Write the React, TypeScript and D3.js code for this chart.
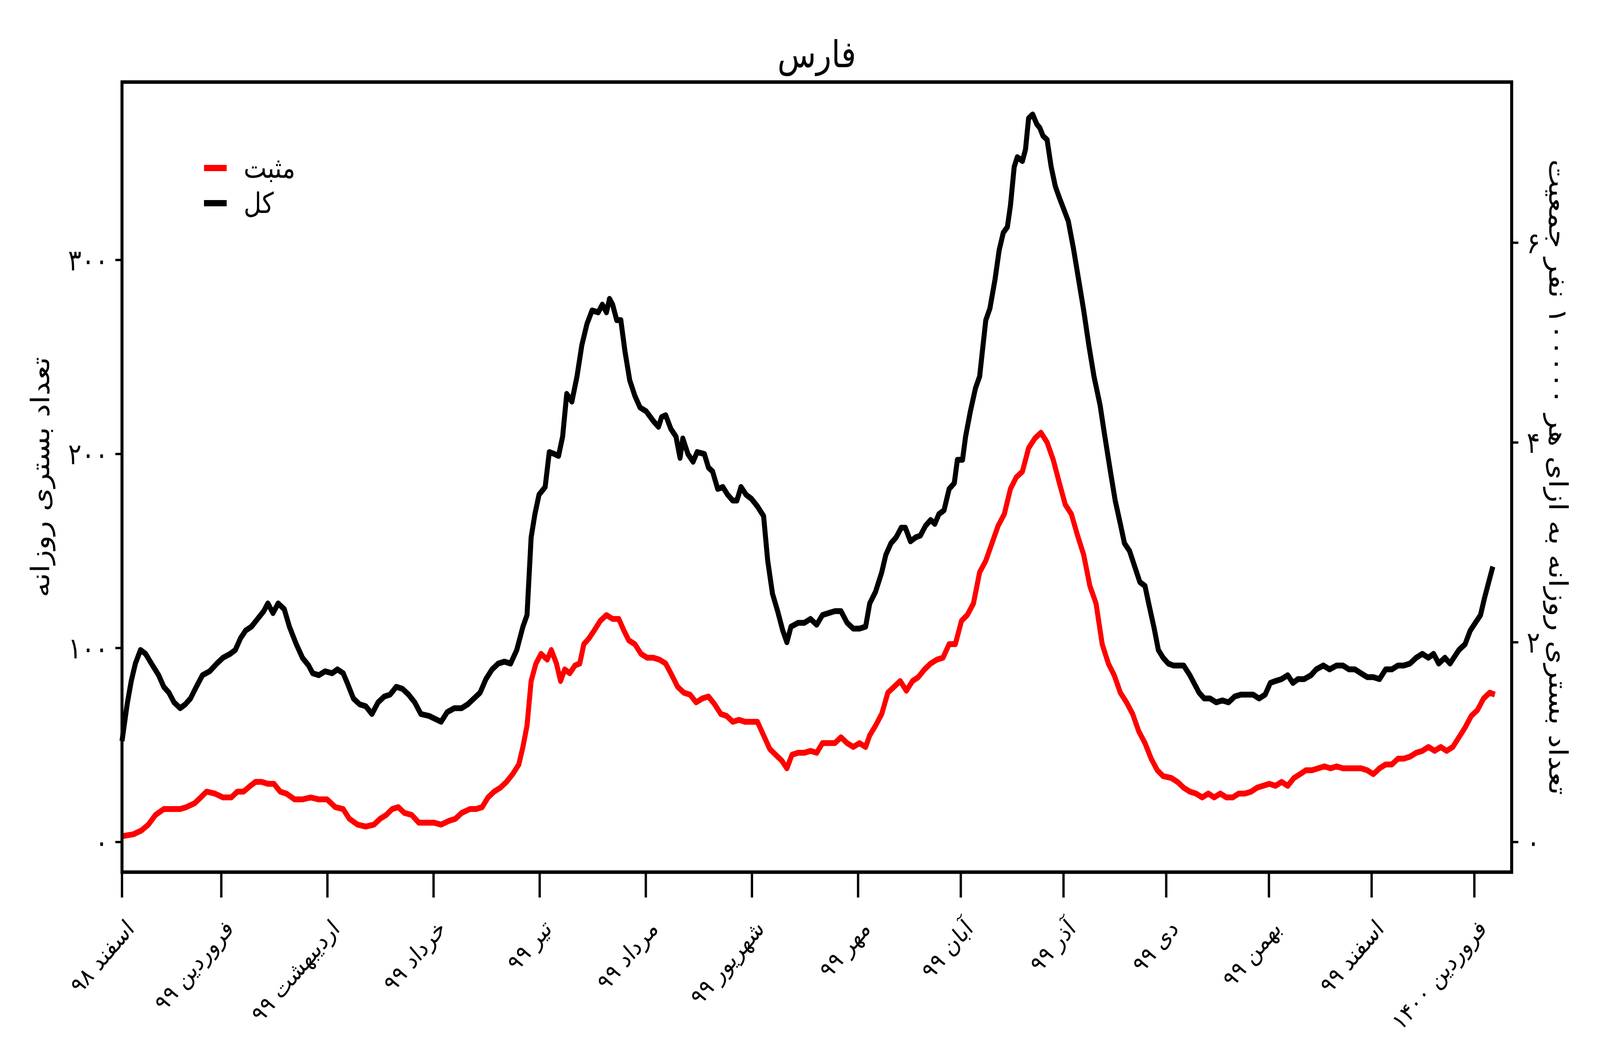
import React, { useEffect, useRef } from 'react';
import * as d3 from 'd3';

// days since 1 Esfand 1398
const totalDays = [
  0, 1.5, 2.7, 3.9, 5.4, 6.9, 8.6, 10.7, 12.2, 13.7,
  15.2, 17.0, 18.5, 20.0, 21.7, 23.5, 25.6, 27.7, 29.5, 31.6,
  33.1, 34.6, 36.1, 37.8, 39.6, 41.4, 42.6, 44.1, 45.6, 47.4,
  48.9, 50.9, 52.7, 54.5, 55.7, 57.5, 59.3, 61.4, 62.9, 64.6,
  65.8, 67.6, 69.4, 71.2, 73.0, 74.8, 76.6, 78.3, 80.1, 81.9,
  83.7, 85.5, 87.3, 89.7, 92.0, 93.2, 95.0, 97.1, 99.2, 101.0,
  102.8, 104.6, 106.3, 108.1, 109.9, 111.7, 113.5, 115.3, 117.1, 118.3,
  119.5, 120.6, 121.8, 123.6, 124.8, 126.3, 127.5, 128.7, 129.9, 131.4,
  132.9, 134.3, 135.8, 137.3, 139.1, 140.3, 141.5, 142.4, 143.3, 144.5,
  145.7, 146.9, 148.3, 149.8, 151.3, 153.1, 155.2, 156.7, 157.6, 158.8,
  160.3, 161.8, 163.0, 163.8, 165.3, 166.8, 168.0, 170.1, 171.3, 172.5,
  174.0, 175.5, 176.9, 178.4, 179.6, 180.8, 182.3, 183.8, 185.6, 187.4,
  188.6, 190.0, 191.5, 193.0, 194.2, 195.4, 197.5, 199.3, 201.1, 202.9,
  204.6, 206.4, 208.2, 210.0, 211.8, 213.6, 215.4, 217.2, 218.4, 220.1,
  221.9, 223.1, 224.6, 226.1, 227.6, 228.8, 230.3, 231.8, 233.2, 234.7,
  236.2, 237.4, 238.6, 240.1, 241.6, 243.1, 244.0, 245.5, 246.4, 247.8,
  249.3, 250.5, 252.3, 253.5, 255.0, 256.2, 257.4, 258.6, 259.5, 260.6,
  261.5, 263.0, 263.9, 264.8, 266.0, 267.2, 268.1, 269.0, 270.2, 271.4,
  272.6, 273.8, 274.9, 276.4, 277.9, 279.4, 280.9, 282.4, 283.9, 285.7,
  286.9, 288.7, 290.1, 291.6, 292.8, 294.3, 295.8, 297.3, 298.8, 300.0,
  301.5, 302.7, 304.1, 305.6, 307.1, 308.6, 310.1, 311.9, 313.1, 314.6,
  316.1, 317.8, 319.6, 321.4, 323.2, 325.0, 326.8, 328.6, 330.4, 332.1,
  333.9, 335.4, 336.9, 338.7, 340.5, 342.0, 343.5, 345.3, 347.3, 348.8,
  350.9, 352.7, 354.8, 356.6, 358.4, 360.1, 361.9, 363.7, 365.5, 367.3,
  369.1, 370.9, 372.7, 374.4, 376.2, 378.0, 379.8, 381.6, 383.1, 384.6,
  386.4, 387.9, 389.0, 390.5, 392.3, 393.8, 395.3, 396.8, 398.0, 399.2,
  400.4,
];

// کل: all daily hospitalisations
const totalValues = [
  52, 71, 83, 92, 99, 97, 92, 86, 80, 77,
  72, 69, 71, 74, 80, 86, 88, 92, 95, 97,
  99, 105, 109, 111, 115, 119, 123, 118, 123, 120,
  111, 102, 95, 91, 87, 86, 88, 87, 89, 87,
  82, 74, 71, 70, 66, 72, 75, 76, 80, 79,
  76, 72, 66, 65, 63, 62, 67, 69, 69, 71,
  74, 77, 84, 89, 92, 93, 92, 99, 111, 117,
  157, 169, 179, 183, 201, 200, 199, 209, 231, 227,
  240, 256, 267, 274, 273, 277, 273, 280, 277, 269,
  269, 253, 238, 230, 224, 222, 217, 214, 219, 220,
  213, 209, 198, 208, 200, 196, 201, 200, 193, 191,
  182, 183, 179, 176, 176, 183, 179, 177, 173, 168,
  145, 128, 119, 109, 103, 111, 113, 113, 115, 112,
  117, 118, 119, 119, 113, 110, 110, 111, 123, 129,
  139, 148, 154, 157, 162, 162, 155, 157, 158, 163,
  166, 164, 169, 171, 182, 185, 197, 197, 209, 222,
  234, 240, 269, 275, 290, 305, 314, 317, 328, 348,
  353, 351, 357, 373, 375, 370, 368, 364, 362, 348,
  338, 332, 327, 320, 306, 290, 274, 256, 240, 225,
  211, 191, 176, 164, 154, 150, 142, 134, 132, 122,
  110, 99, 95, 92, 91, 91, 91, 86, 82, 77,
  74, 74, 72, 73, 72, 75, 76, 76, 76, 74,
  76, 82, 83, 84, 86, 82, 84, 84, 86, 89,
  91, 89, 91, 91, 89, 89, 87, 85, 85, 84,
  89, 89, 91, 91, 92, 95, 97, 95, 97, 92,
  95, 92, 95, 99, 102, 109, 113, 117, 126, 134,
  142,
];

const positiveDays = [
  0, 3.3, 5.7, 7.7, 9.8, 12.2, 14.6, 17.0, 18.8, 21.2,
  23.0, 24.7, 27.1, 29.5, 31.9, 33.7, 35.5, 37.5, 39.0, 40.8,
  42.6, 44.4, 46.2, 48.0, 50.4, 52.7, 55.1, 57.5, 59.9, 62.3,
  64.6, 66.4, 68.8, 71.2, 73.6, 75.4, 77.2, 78.9, 80.7, 82.5,
  84.6, 86.7, 89.1, 91.1, 93.2, 95.6, 97.4, 99.2, 101.6, 103.4,
  105.2, 106.9, 108.7, 110.5, 112.3, 114.1, 115.9, 117.1, 118.3, 119.5,
  120.9, 122.4, 124.2, 125.4, 126.9, 128.1, 129.3, 130.8, 132.3, 133.7,
  134.9, 136.4, 137.9, 139.7, 141.5, 143.3, 145.1, 146.6, 148.0, 149.8,
  151.6, 153.4, 155.2, 157.0, 158.8, 160.6, 162.3, 164.1, 165.9, 167.7,
  169.5, 171.3, 173.1, 174.9, 176.6, 178.4, 180.2, 182.0, 183.8, 185.6,
  187.4, 189.2, 190.9, 192.7, 194.2, 195.7, 197.5, 199.3, 201.1, 202.9,
  204.6, 206.4, 208.2, 210.0, 211.8, 213.6, 215.4, 217.2, 218.4, 220.1,
  221.9, 223.7, 225.5, 227.3, 229.1, 230.9, 232.6, 234.4, 236.2, 238.0,
  239.8, 241.6, 243.4, 245.2, 246.9, 248.7, 250.5, 252.3, 254.1, 255.9,
  257.7, 259.5, 261.2, 263.0, 264.8, 266.6, 268.4, 270.2, 272.0, 273.8,
  275.5, 277.3, 279.1, 280.9, 282.7, 284.5, 286.3, 288.1, 289.8, 291.6,
  293.4, 295.2, 297.0, 298.8, 300.6, 302.4, 304.1, 306.5, 308.3, 310.1,
  311.9, 313.7, 315.5, 317.3, 319.0, 320.8, 322.6, 324.4, 326.2, 328.0,
  329.8, 331.5, 333.3, 335.1, 336.9, 338.7, 340.5, 342.3, 344.1, 345.8,
  347.6, 349.4, 351.2, 353.0, 354.8, 356.6, 358.4, 360.1, 361.9, 363.7,
  365.5, 367.3, 369.1, 370.9, 372.7, 374.4, 376.2, 378.0, 379.8, 381.6,
  383.4, 385.2, 386.9, 388.7, 390.5, 392.3, 394.1, 395.9, 397.7, 399.5,
  401.0,
];

// مثبت: positive-test hospitalisations
const positiveValues = [
  3, 4, 6, 9, 14, 17, 17, 17, 18, 20,
  23, 26, 25, 23, 23, 26, 26, 29, 31, 31,
  30, 30, 26, 25, 22, 22, 23, 22, 22, 18,
  17, 12, 9, 8, 9, 12, 14, 17, 18, 15,
  14, 10, 10, 10, 9, 11, 12, 15, 17, 17,
  18, 23, 26, 28, 31, 35, 40, 49, 60, 83,
  92, 97, 94, 99, 92, 83, 89, 87, 91, 92,
  102, 105, 109, 114, 117, 115, 115, 109, 104, 102,
  97, 95, 95, 94, 92, 86, 80, 77, 76, 72,
  74, 75, 71, 66, 65, 62, 63, 62, 62, 62,
  55, 48, 45, 42, 38, 45, 46, 46, 47, 46,
  51, 51, 51, 54, 51, 49, 51, 49, 55, 60,
  66, 77, 80, 83, 78, 83, 85, 89, 92, 94,
  95, 102, 102, 114, 117, 123, 139, 145, 154, 163,
  169, 182, 188, 191, 203, 208, 211, 206, 197, 185,
  174, 169, 158, 148, 132, 123, 102, 92, 86, 77,
  72, 66, 57, 51, 43, 37, 34, 33, 31, 28,
  26, 25, 23, 25, 23, 25, 23, 23, 25, 25,
  26, 28, 29, 30, 29, 31, 29, 33, 35, 37,
  37, 38, 39, 38, 39, 38, 38, 38, 38, 37,
  35, 38, 40, 40, 43, 43, 44, 46, 47, 49,
  47, 49, 47, 49, 54, 59, 65, 68, 74, 77,
  76,
];

// first day of each month, counted from 1 Esfand 1398
const monthStarts = [0, 29, 60, 91, 122, 153, 184, 215, 245, 275, 305, 335, 365, 395];
const monthLabels = [
  'اسفند ۹۸', 'فروردین ۹۹', 'اردیبهشت ۹۹', 'خرداد ۹۹', 'تیر ۹۹', 'مرداد ۹۹', 'شهریور ۹۹',
  'مهر ۹۹', 'آبان ۹۹', 'آذر ۹۹', 'دی ۹۹', 'بهمن ۹۹', 'اسفند ۹۹', 'فروردین ۱۴۰۰',
];
const leftTicks = [0, 100, 200, 300];
const rightTicks = [0, 2, 4, 6];
const per100k = 51.48; // hospitalisations per 1 unit of the right axis

const seriesNames = ['مثبت', 'کل'];
const seriesColors = ['#ff0000', '#000000'];

const titleText = 'فارس';
const leftLabel = 'تعداد بستری روزانه';
const rightLabel = 'تعداد بستری روزانه به ازای هر ۱۰۰۰۰۰ نفر جمعیت';

const W = 4800;
const H = 2700;
const FONT = '"DejaVu Sans", sans-serif';

const toFa = (v: number | string) => String(v).replace(/\d/g, (d) => '۰۱۲۳۴۵۶۷۸۹'[+d]);

const Chart: React.FC = () => {
  const svgRef = useRef<SVGSVGElement | null>(null);

  useEffect(() => {
    if (!svgRef.current) return;
    const svg = d3.select(svgRef.current);
    svg.selectAll('*').remove();

    const left = 366;
    const right = 4535;
    const top = 210;
    const bottom = 2232;

    const x = d3.scaleLinear().domain([0, 405.9]).range([left, right]);
    const y = d3.scaleLinear().domain([-15.5, 391.7]).range([bottom, top]);
    const y2 = d3.scaleLinear().domain([-15.5 / per100k, 391.7 / per100k]).range([bottom, top]);

    const line = d3.line<[number, number]>()
      .x((d) => x(d[0]))
      .y((d) => y(d[1]));

    const series: [number, number][][] = [
      positiveDays.map((d, i) => [d, positiveValues[i]]),
      totalDays.map((d, i) => [d, totalValues[i]]),
    ];

    series.forEach((s, i) => {
      svg.append('path')
        .datum(s)
        .attr('fill', 'none')
        .attr('stroke', seriesColors[i])
        .attr('stroke-width', 15)
        .attr('stroke-linejoin', 'round')
        .attr('d', line);
    });

    // frame
    svg.append('rect')
      .attr('x', left).attr('y', top)
      .attr('width', right - left).attr('height', bottom - top)
      .attr('fill', 'none').attr('stroke', '#000').attr('stroke-width', 9);

    // x ticks
    const xt = svg.append('g');
    monthStarts.forEach((m, i) => {
      xt.append('line')
        .attr('x1', x(m)).attr('x2', x(m))
        .attr('y1', bottom).attr('y2', bottom + 65)
        .attr('stroke', '#000').attr('stroke-width', 7);
      const tx = x(m) + 40;
      const ty = 2380;
      xt.append('text')
        .attr('transform', `translate(${tx},${ty}) rotate(-45)`)
        .attr('text-anchor', 'end')
        .attr('font-family', FONT)
        .attr('font-size', 62)
        .text(monthLabels[i]);
    });

    // left ticks
    leftTicks.forEach((t) => {
      svg.append('line')
        .attr('x1', left - 20).attr('x2', left)
        .attr('y1', y(t)).attr('y2', y(t))
        .attr('stroke', '#000').attr('stroke-width', 6);
      svg.append('text')
        .attr('x', 325).attr('y', y(t))
        .attr('text-anchor', 'end')
        .attr('dominant-baseline', 'central')
        .attr('font-family', FONT)
        .attr('font-size', 75)
        .text(toFa(t));
    });

    // right ticks
    rightTicks.forEach((t) => {
      svg.append('line')
        .attr('x1', right).attr('x2', right + 20)
        .attr('y1', y2(t)).attr('y2', y2(t))
        .attr('stroke', '#000').attr('stroke-width', 6);
      svg.append('text')
        .attr('x', 4580).attr('y', y2(t))
        .attr('text-anchor', 'start')
        .attr('dominant-baseline', 'central')
        .attr('font-family', FONT)
        .attr('font-size', 75)
        .text(toFa(t));
    });

    // axis labels
    svg.append('text')
      .attr('transform', `translate(121,${(top + bottom) / 2}) rotate(-90)`)
      .attr('text-anchor', 'middle')
      .attr('dominant-baseline', 'central')
      .attr('font-family', FONT)
      .attr('font-size', 77)
      .text(leftLabel);

    svg.append('text')
      .attr('transform', `translate(4674,${(top + bottom) / 2}) rotate(90)`)
      .attr('text-anchor', 'middle')
      .attr('dominant-baseline', 'central')
      .attr('font-family', FONT)
      .attr('font-size', 77)
      .text(rightLabel);

    // title
    svg.append('text')
      .attr('x', (left + right) / 2).attr('y', 172)
      .attr('text-anchor', 'middle')
      .attr('font-family', FONT)
      .attr('font-size', 95)
      .text(titleText);

    // legend
    seriesNames.forEach((name, i) => {
      const ly = 430 + i * 90;
      svg.append('line')
        .attr('x1', 612).attr('x2', 680)
        .attr('y1', ly).attr('y2', ly)
        .attr('stroke', seriesColors[i]).attr('stroke-width', 16);
      svg.append('text')
        .attr('x', 731).attr('y', ly)
        .attr('dominant-baseline', 'central')
        .attr('font-family', FONT)
        .attr('font-size', 73)
        .text(name);
    });
  }, []);

  // the page may be narrower than 4800px, so the drawing is stretched to fill it
  return (
    <svg
      ref={svgRef}
      viewBox={`0 0 ${W} ${H}`}
      preserveAspectRatio="none"
      style={{ display: 'block', width: '100vw', height: '100vh', background: '#fff' }}
    />
  );
};

export default function App() {
  return (
    <div style={{ position: 'fixed', left: 0, top: 0, width: '100vw', height: '100vh' }}>
      <Chart />
    </div>
  );
}
